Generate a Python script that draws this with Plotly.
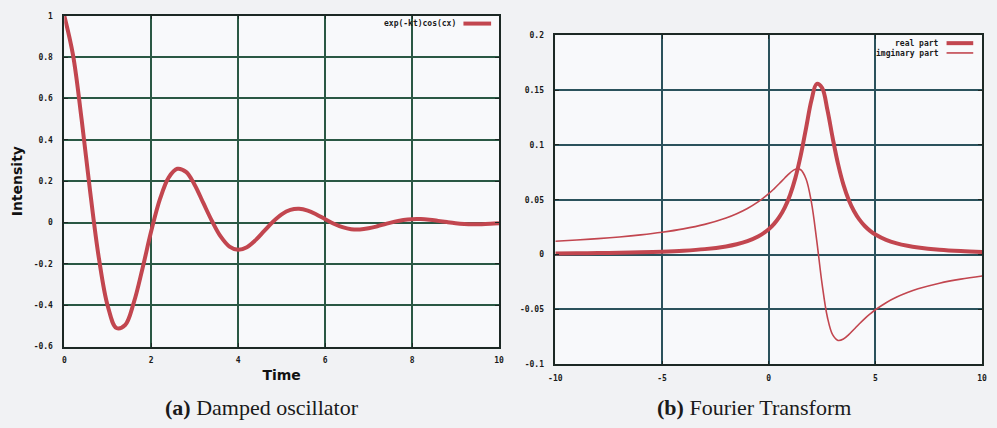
import plotly.graph_objects as go

W, H = 997, 428

# ---- data: (a) damped oscillator ----
time_t = [0, 0.2, 0.4, 0.6, 0.8, 1.0, 1.2, 1.4, 1.6, 1.8, 2.0, 2.2, 2.4, 2.6, 2.8, 3.0,
          3.2, 3.4, 3.6, 3.8, 4.0, 4.2, 4.4, 4.6, 4.8, 5.0, 5.2, 5.4, 5.6, 5.8, 6.0,
          6.2, 6.4, 6.6, 6.8, 7.0, 7.2, 7.4, 7.6, 7.8, 8.0, 8.2, 8.4, 8.6, 8.8, 9.0,
          9.2, 9.4, 9.6, 9.8, 10.0]
intensity = [1.0, 0.8108, 0.4960, 0.1405, -0.1783, -0.4041, -0.5098, -0.4951, -0.3859,
             -0.2209, -0.0413, 0.1128, 0.2177, 0.2601, 0.2449, 0.1820, 0.0934, 0.0062,
             -0.0683, -0.1161, -0.1319, -0.1191, -0.0851, -0.0405, 0.0040, 0.0397,
             0.0611, 0.0665, 0.0578, 0.0393, 0.0165, -0.0055, -0.0224, -0.0319,
             -0.0333, -0.0279, -0.0180, -0.0063, 0.0045, 0.0124, 0.0165, 0.0166,
             0.0134, 0.0081, 0.0022, -0.0031, -0.0068, -0.0085, -0.0082, -0.0063, -0.0036]

# ---- data: (b) Fourier transform ----
freq = [-10, -9, -8, -7, -6, -5, -4, -3, -2, -1.5, -1, -0.5, 0, 0.25, 0.5, 0.75, 1.0,
        1.25, 1.5, 1.75, 2.0, 2.25, 2.5, 2.75, 3.0, 3.25, 3.5, 3.75, 4.0, 4.25, 4.5,
        4.75, 5.0, 5.5, 6, 6.5, 7, 8, 9, 10]
real_part = [0.00096, 0.00114, 0.00137, 0.00168, 0.00210, 0.00270, 0.00360, 0.00502,
             0.00749, 0.00945, 0.01226, 0.01647, 0.02315, 0.02799, 0.03437, 0.04290,
             0.05441, 0.06997, 0.09047, 0.11543, 0.14045, 0.15564, 0.15203, 0.13196,
             0.10609, 0.08249, 0.06383, 0.04986, 0.03953, 0.03186, 0.02610, 0.02169,
             0.01827, 0.01342, 0.01023, 0.00804, 0.00648, 0.00446, 0.00325, 0.00247]
imag_part = [0.01225, 0.01332, 0.01459, 0.01612, 0.01800, 0.02038, 0.02346, 0.02760,
             0.03343, 0.03730, 0.04208, 0.04807, 0.05560, 0.06003, 0.06484, 0.06988,
             0.07460, 0.07790, 0.07741, 0.06902, 0.04778, 0.01284, -0.02664, -0.05714,
             -0.07328, -0.07824, -0.07699, -0.07299, -0.06806, -0.06307, -0.05838,
             -0.05412, -0.05029, -0.04384, -0.03871, -0.03458, -0.03120, -0.02605,
             -0.02232, -0.01951]

# ---- tick labels ----
a_xticks = [0, 2, 4, 6, 8, 10]
a_xlabels = ["0", "2", "4", "6", "8", "10"]
a_yticks = [-0.6, -0.4, -0.2, 0, 0.2, 0.4, 0.6, 0.8, 1]
a_ylabels = ["-0.6", "-0.4", "-0.2", "0", "0.2", "0.4", "0.6", "0.8", "1"]
b_xticks = [-10, -5, 0, 5, 10]
b_xlabels = ["-10", "-5", "0", "5", "10"]
b_yticks = [-0.1, -0.05, 0, 0.05, 0.1, 0.15, 0.2]
b_ylabels = ["-0.1", "-0.05", "0", "0.05", "0.1", "0.15", "0.2"]

RED = "#c2464f"
GRID_A = "#2a5844"
GRID_B = "#2b525c"
FRAME = "#1c2824"
TICKFONT = dict(family="DejaVu Sans Mono", size=8, color="#1a1a1a", weight="bold")


def px(x):
    return x / W


def py(y):
    return 1 - y / H


fig = go.Figure()
fig.add_trace(go.Scatter(x=time_t, y=intensity, mode="lines", line_shape="spline",
                         line=dict(color=RED, width=4), name="exp(-kt)cos(cx)",
                         xaxis="x", yaxis="y", showlegend=False))
fig.add_trace(go.Scatter(x=freq, y=real_part, mode="lines", line_shape="spline",
                         line=dict(color=RED, width=4), name="real part",
                         xaxis="x2", yaxis="y2", showlegend=False))
fig.add_trace(go.Scatter(x=freq, y=imag_part, mode="lines", line_shape="spline",
                         line=dict(color=RED, width=1.6), name="imginary part",
                         xaxis="x2", yaxis="y2", showlegend=False))

common = dict(showline=True, mirror="ticks", linecolor=FRAME, linewidth=1.5,
              ticks="inside", ticklen=4, tickcolor=FRAME, tickfont=TICKFONT,
              zeroline=False, showgrid=True, tickmode="array")

TITLEFONT = dict(family="DejaVu Sans", size=14, color="#111111", weight="bold")

fig.update_layout(
    width=W, height=H, margin=dict(l=0, r=0, t=0, b=0),
    paper_bgcolor="#f1f2f4", plot_bgcolor="#f8f9fb",
    xaxis=dict(domain=[px(58), px(498)], range=[0, 10], anchor="y",
               tickvals=a_xticks, ticktext=a_xlabels, gridcolor=GRID_A, gridwidth=2,
               ticklabelstandoff=5,
               title=dict(text="Time", standoff=6, font=TITLEFONT),
               **common),
    yaxis=dict(domain=[py(350), py(12)], range=[-0.6, 1], anchor="x",
               tickvals=a_yticks, ticktext=a_ylabels, gridcolor=GRID_A, gridwidth=2,
               ticklabelstandoff=8,
               title=dict(text="Intensity", standoff=8, font=TITLEFONT),
               **common),
    xaxis2=dict(domain=[px(555), px(987)], range=[-10, 10], anchor="y2",
                tickvals=b_xticks, ticktext=b_xlabels, gridcolor=GRID_B, gridwidth=1.6,
                ticklabelstandoff=5,
                **common),
    yaxis2=dict(domain=[py(368), py(32)], range=[-0.1, 0.2], anchor="x2",
                tickvals=b_yticks, ticktext=b_ylabels, gridcolor=GRID_B, gridwidth=1.6,
                ticklabelstandoff=8,
                **common),
)

LEGFONT = dict(family="DejaVu Sans Mono", size=8, color="#1a1a1a", weight="bold")
legend_items = [
    ("exp(-kt)cos(cx)", 457, 20, 462, 490, 4),
    ("real part", 945, 40, 951, 978, 4),
    ("imginary part", 945, 50, 951, 978, 1.6),
]
for text, tx, ty, x0, x1, lw in legend_items:
    fig.add_annotation(text=text, x=px(tx), y=py(ty), xref="paper", yref="paper",
                       xanchor="right", yanchor="middle", showarrow=False, font=LEGFONT)
    fig.add_shape(type="line", xref="paper", yref="paper", x0=px(x0), x1=px(x1),
                  y0=py(ty), y1=py(ty), line=dict(color=RED, width=lw))

CAPFONT = dict(family="Liberation Serif", size=22, color="#1a1a1a")
fig.add_annotation(text="<b>(a)</b> Damped oscillator", x=px(258), y=py(412),
                   xref="paper", yref="paper", xanchor="center", yanchor="middle",
                   showarrow=False, font=CAPFONT)
fig.add_annotation(text="<b>(b)</b> Fourier Transform", x=px(756), y=py(412),
                   xref="paper", yref="paper", xanchor="center", yanchor="middle",
                   showarrow=False, font=CAPFONT)

fig.write_html("out.html")
